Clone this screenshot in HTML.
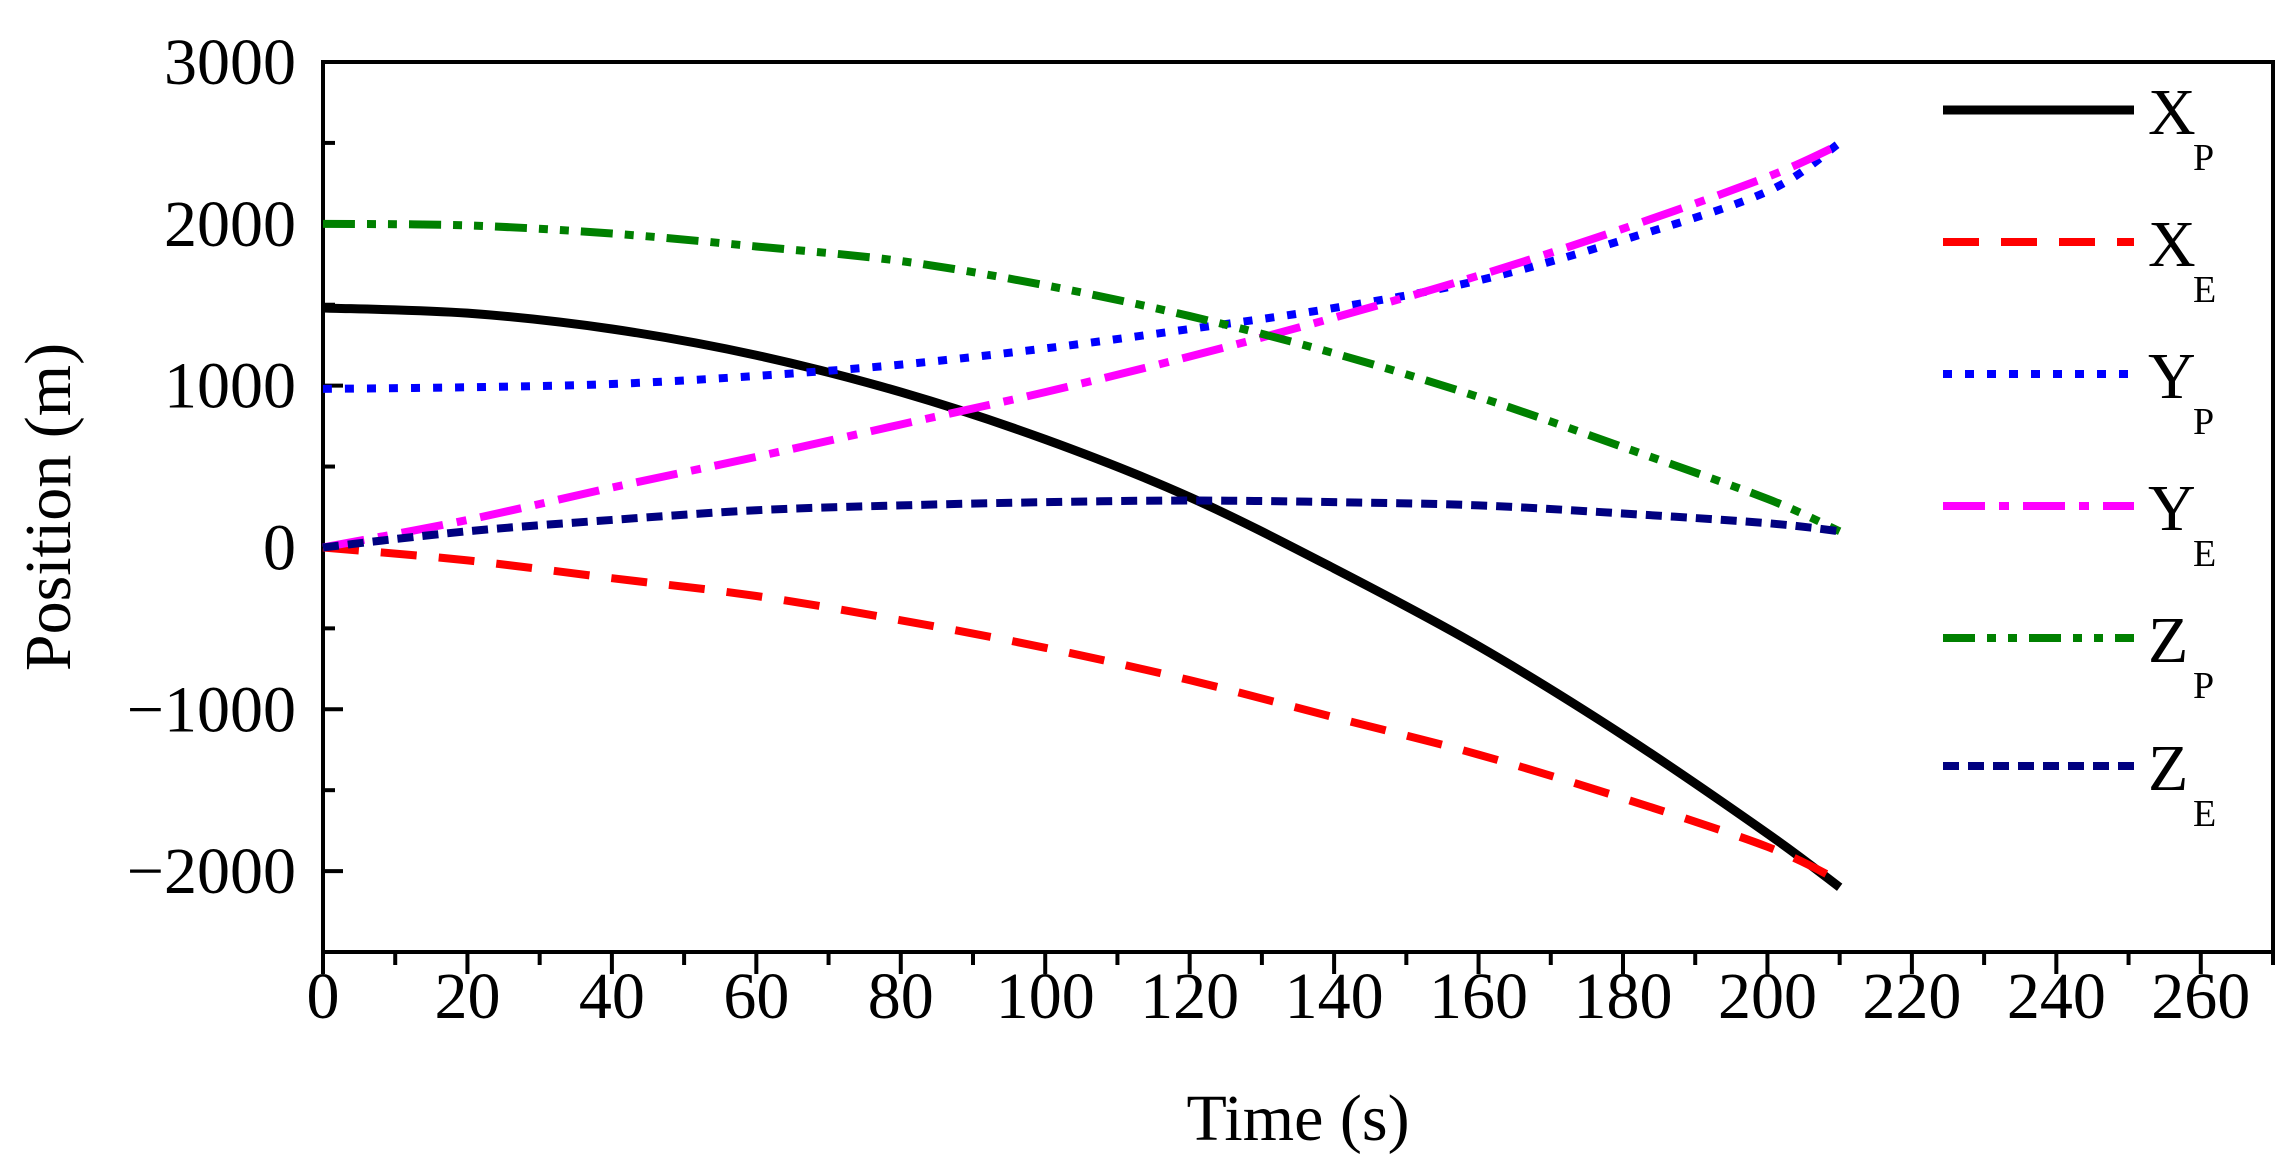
<!DOCTYPE html>
<html><head><meta charset="utf-8"><style>
html,body{margin:0;padding:0;background:#fff;}
svg{display:block;font-family:"Liberation Serif",serif;}
</style></head><body>
<svg id="chart" width="2288" height="1175" viewBox="0 0 2288 1175" xmlns="http://www.w3.org/2000/svg"></svg>
<script>
const times = [0,20,40,60,80,100,120,140,160,180,200,210];
const xpVals = [1480,1448,1350,1188,960,668,311,-130,-610,-1160,-1768,-2100];
const xeVals = [0,-80,-190,-300,-450,-620,-820,-1050,-1280,-1550,-1850,-2060];
const ypVals = [980,990,1010,1060,1130,1230,1350,1480,1650,1900,2200,2500];
const yeVals = [0,170,370,560,760,960,1180,1420,1680,1970,2290,2490];
const zpVals = [2000,1990,1940,1860,1770,1620,1430,1200,930,620,300,100];
const zeVals = [0,100,170,230,260,280,290,280,260,210,150,100];
const xTicks = [0,20,40,60,80,100,120,140,160,180,200,220,240,260];
const yTicks = [3000,2000,1000,0,-1000,-2000];
const yTickLabels = ["3000","2000","1000","0","\u22121000","\u22122000"];

const L=323,R=2273,T=62,B=952,XMIN=0,XMAX=270,YMIN=-2500,YMAX=3000;
const sx=v=>L+(v-XMIN)/(XMAX-XMIN)*(R-L);
const sy=v=>B-(v-YMIN)/(YMAX-YMIN)*(B-T);
const svg=document.getElementById('chart');
const NS='http://www.w3.org/2000/svg';
function mk(tag,attrs,parent){const e=document.createElementNS(NS,tag);for(const k in attrs)e.setAttribute(k,attrs[k]);(parent||svg).appendChild(e);return e;}

const frame=mk('rect',{x:L,y:T,width:R-L,height:B-T,fill:'none',stroke:'#000','stroke-width':4});



for(let t=0;t<=270;t+=10){
  const major=t%20===0;
  const tk=mk('line',{x1:sx(t),x2:sx(t),y1:B,y2:B+(major?22:13),stroke:'#000','stroke-width':4});
  
  
}
xTicks.forEach(t=>{
  const tx=mk('text',{x:sx(t),y:1018,'font-size':66,'text-anchor':'middle'});
  tx.textContent=t;
  
  
});
for(let v=-2500;v<=3000;v+=500){
  const major=v%1000===0;
  const tk=mk('line',{x1:L,x2:L+(major?20:12),y1:sy(v),y2:sy(v),stroke:'#000','stroke-width':4});
  
  
}
yTicks.forEach((v,i)=>{
  const tx=mk('text',{x:296,y:sy(v)+22,'font-size':66,'text-anchor':'end'});
  tx.textContent=yTickLabels[i];
  
  
});
const xt=mk('text',{x:1298,y:1140,'font-size':66,'text-anchor':'middle'});
xt.textContent='Time (s)';


const yt=mk('text',{x:0,y:0,'font-size':66,'text-anchor':'middle',transform:'translate(70,507) rotate(-90)'});
yt.textContent='Position (m)';



const series=[
 {name:'xp',vals:xpVals,color:'#000',dash:'',w:9,lab:'X',sub:'P'},
 {name:'xe',vals:xeVals,color:'#ff0000',dash:'36 22',w:8,lab:'X',sub:'E'},
 {name:'yp',vals:ypVals,color:'#0000ff',dash:'9 13',w:8,lab:'Y',sub:'P'},
 {name:'ye',vals:yeVals,color:'#ff00ff',dash:'42 14 10 14',w:8,lab:'Y',sub:'E'},
 {name:'zp',vals:zpVals,color:'#008000',dash:'32 12 9 12 9 12',w:8,lab:'Z',sub:'P'},
 {name:'ze',vals:zeVals,color:'#000080',dash:'16 9',w:8,lab:'Z',sub:'E'}
];
function smoothPath(pts){
  let d=`M${pts[0][0]},${pts[0][1]}`;
  for(let i=0;i<pts.length-1;i++){
    const p0=pts[i-1]||pts[i],p1=pts[i],p2=pts[i+1],p3=pts[i+2]||p2;
    const c1=[p1[0]+(p2[0]-p0[0])/6,p1[1]+(p2[1]-p0[1])/6];
    const c2=[p2[0]-(p3[0]-p1[0])/6,p2[1]-(p3[1]-p1[1])/6];
    d+=` C${c1[0]},${c1[1]} ${c2[0]},${c2[1]} ${p2[0]},${p2[1]}`;
  }
  return d;
}
const legY=[110,242,374,506,638,766];
series.forEach((s,i)=>{
  const pts=times.map((t,j)=>[sx(t),sy(s.vals[j])]);
  const p=mk('path',{d:smoothPath(pts),fill:'none',stroke:s.color,'stroke-width':s.w,'stroke-dasharray':s.dash});
  
  
  const g=mk('g',{});
  
  
  mk('line',{x1:1943,x2:2134,y1:legY[i],y2:legY[i],stroke:s.color,'stroke-width':s.w,'stroke-dasharray':s.dash},g);
  const tx=mk('text',{x:2148,y:legY[i]+24,'font-size':66},g);
  tx.textContent=s.lab;
  const sb=mk('text',{x:2193,y:legY[i]+60,'font-size':38},g);
  sb.textContent=s.sub;
});
</script>
</body></html>
